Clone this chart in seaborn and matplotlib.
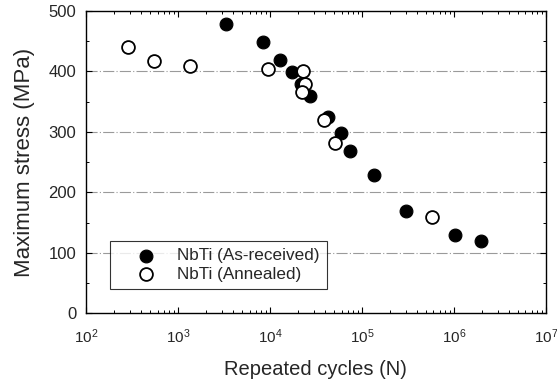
import numpy as np
import pandas as pd
import seaborn as sns
import matplotlib
matplotlib.use("Agg")
import matplotlib.pyplot as plt
from matplotlib.ticker import LogLocator, MultipleLocator, FixedLocator, NullFormatter

# Data
asrec_cycles = [3330, 8450, 12850, 17200, 22000, 27200, 43000, 59200, 75000,
                136000, 299000, 1.03e6, 1.96e6]
asrec_stress = [479, 448, 419, 399, 380, 360, 325, 299, 268,
                229, 169, 129, 120]
ann_cycles = [286, 544, 1360, 9560, 22600, 24000, 22100, 38600, 50900, 577000]
ann_stress = [440, 418, 409, 404, 400, 380, 366, 319, 282, 159]

label_asrec = "NbTi (As-received)"
label_ann = "NbTi (Annealed)"
xlabel = "Repeated cycles (N)"
ylabel = "Maximum stress (MPa)"
yticks = [0, 100, 200, 300, 400, 500]
xticks = [1e2, 1e3, 1e4, 1e5, 1e6, 1e7]
xticklabels = ["10$^{2}$", "10$^{3}$", "10$^{4}$", "10$^{5}$", "10$^{6}$", "10$^{7}$"]

sns.set_theme(style="ticks")
plt.rcParams['font.family'] = ['Liberation Sans', 'DejaVu Sans']
plt.rcParams['mathtext.fontset'] = 'custom'
plt.rcParams['mathtext.rm'] = 'Liberation Sans'
plt.rcParams['mathtext.default'] = 'regular'

df_a = pd.DataFrame({"N": asrec_cycles, "S": asrec_stress})
df_b = pd.DataFrame({"N": ann_cycles, "S": ann_stress})

fig = plt.figure(figsize=(5.57, 3.81), dpi=100)
ax = fig.add_axes([0.1544, 0.178, 0.8256, 0.793])

ax.set_xscale("log")
for y in [100, 200, 300, 400]:
    ax.axhline(y, color="#9a9a9a", lw=0.8, ls=(0, (10, 2, 1, 2)), zorder=0)

sns.scatterplot(data=df_a, x="N", y="S", ax=ax, color="black", edgecolor="black",
                s=85, linewidth=0.8, label=label_asrec, zorder=3)
sns.scatterplot(data=df_b, x="N", y="S", ax=ax, facecolor="white", edgecolor="black",
                s=85, linewidth=1.3, label=label_ann, zorder=4)

ax.set_xlim(1e2, 1e7)
ax.set_ylim(0, 500)
ax.xaxis.set_major_locator(FixedLocator(xticks))
ax.set_xticklabels(xticklabels)
ax.xaxis.set_minor_locator(LogLocator(base=10, subs=np.arange(2, 10), numticks=20))
ax.xaxis.set_minor_formatter(NullFormatter())
ax.set_yticks(yticks)
ax.yaxis.set_minor_locator(MultipleLocator(50))

ax.tick_params(which="both", direction="in", top=True, right=True, color="black")
ax.tick_params(which="major", length=4, width=0.8, labelsize=12, pad=7)
ax.tick_params(axis="x", which="major", labelsize=11, pad=10)
ax.tick_params(which="minor", length=2.5, width=0.7)
for sp in ax.spines.values():
    sp.set_color("black")
    sp.set_linewidth(1.0)

ax.set_xlabel(xlabel, fontsize=14.5, labelpad=10)
ax.set_ylabel(ylabel, fontsize=16, labelpad=10)

leg = ax.legend(loc="lower left", bbox_to_anchor=(0.052, 0.079), frameon=True,
                fancybox=False, edgecolor="black", fontsize=12.3, borderpad=0.45,
                handletextpad=0.15, labelspacing=0.2, borderaxespad=0,
                handlelength=3.3)
leg.get_frame().set_linewidth(0.8)

fig.savefig("out.png", dpi=100)
